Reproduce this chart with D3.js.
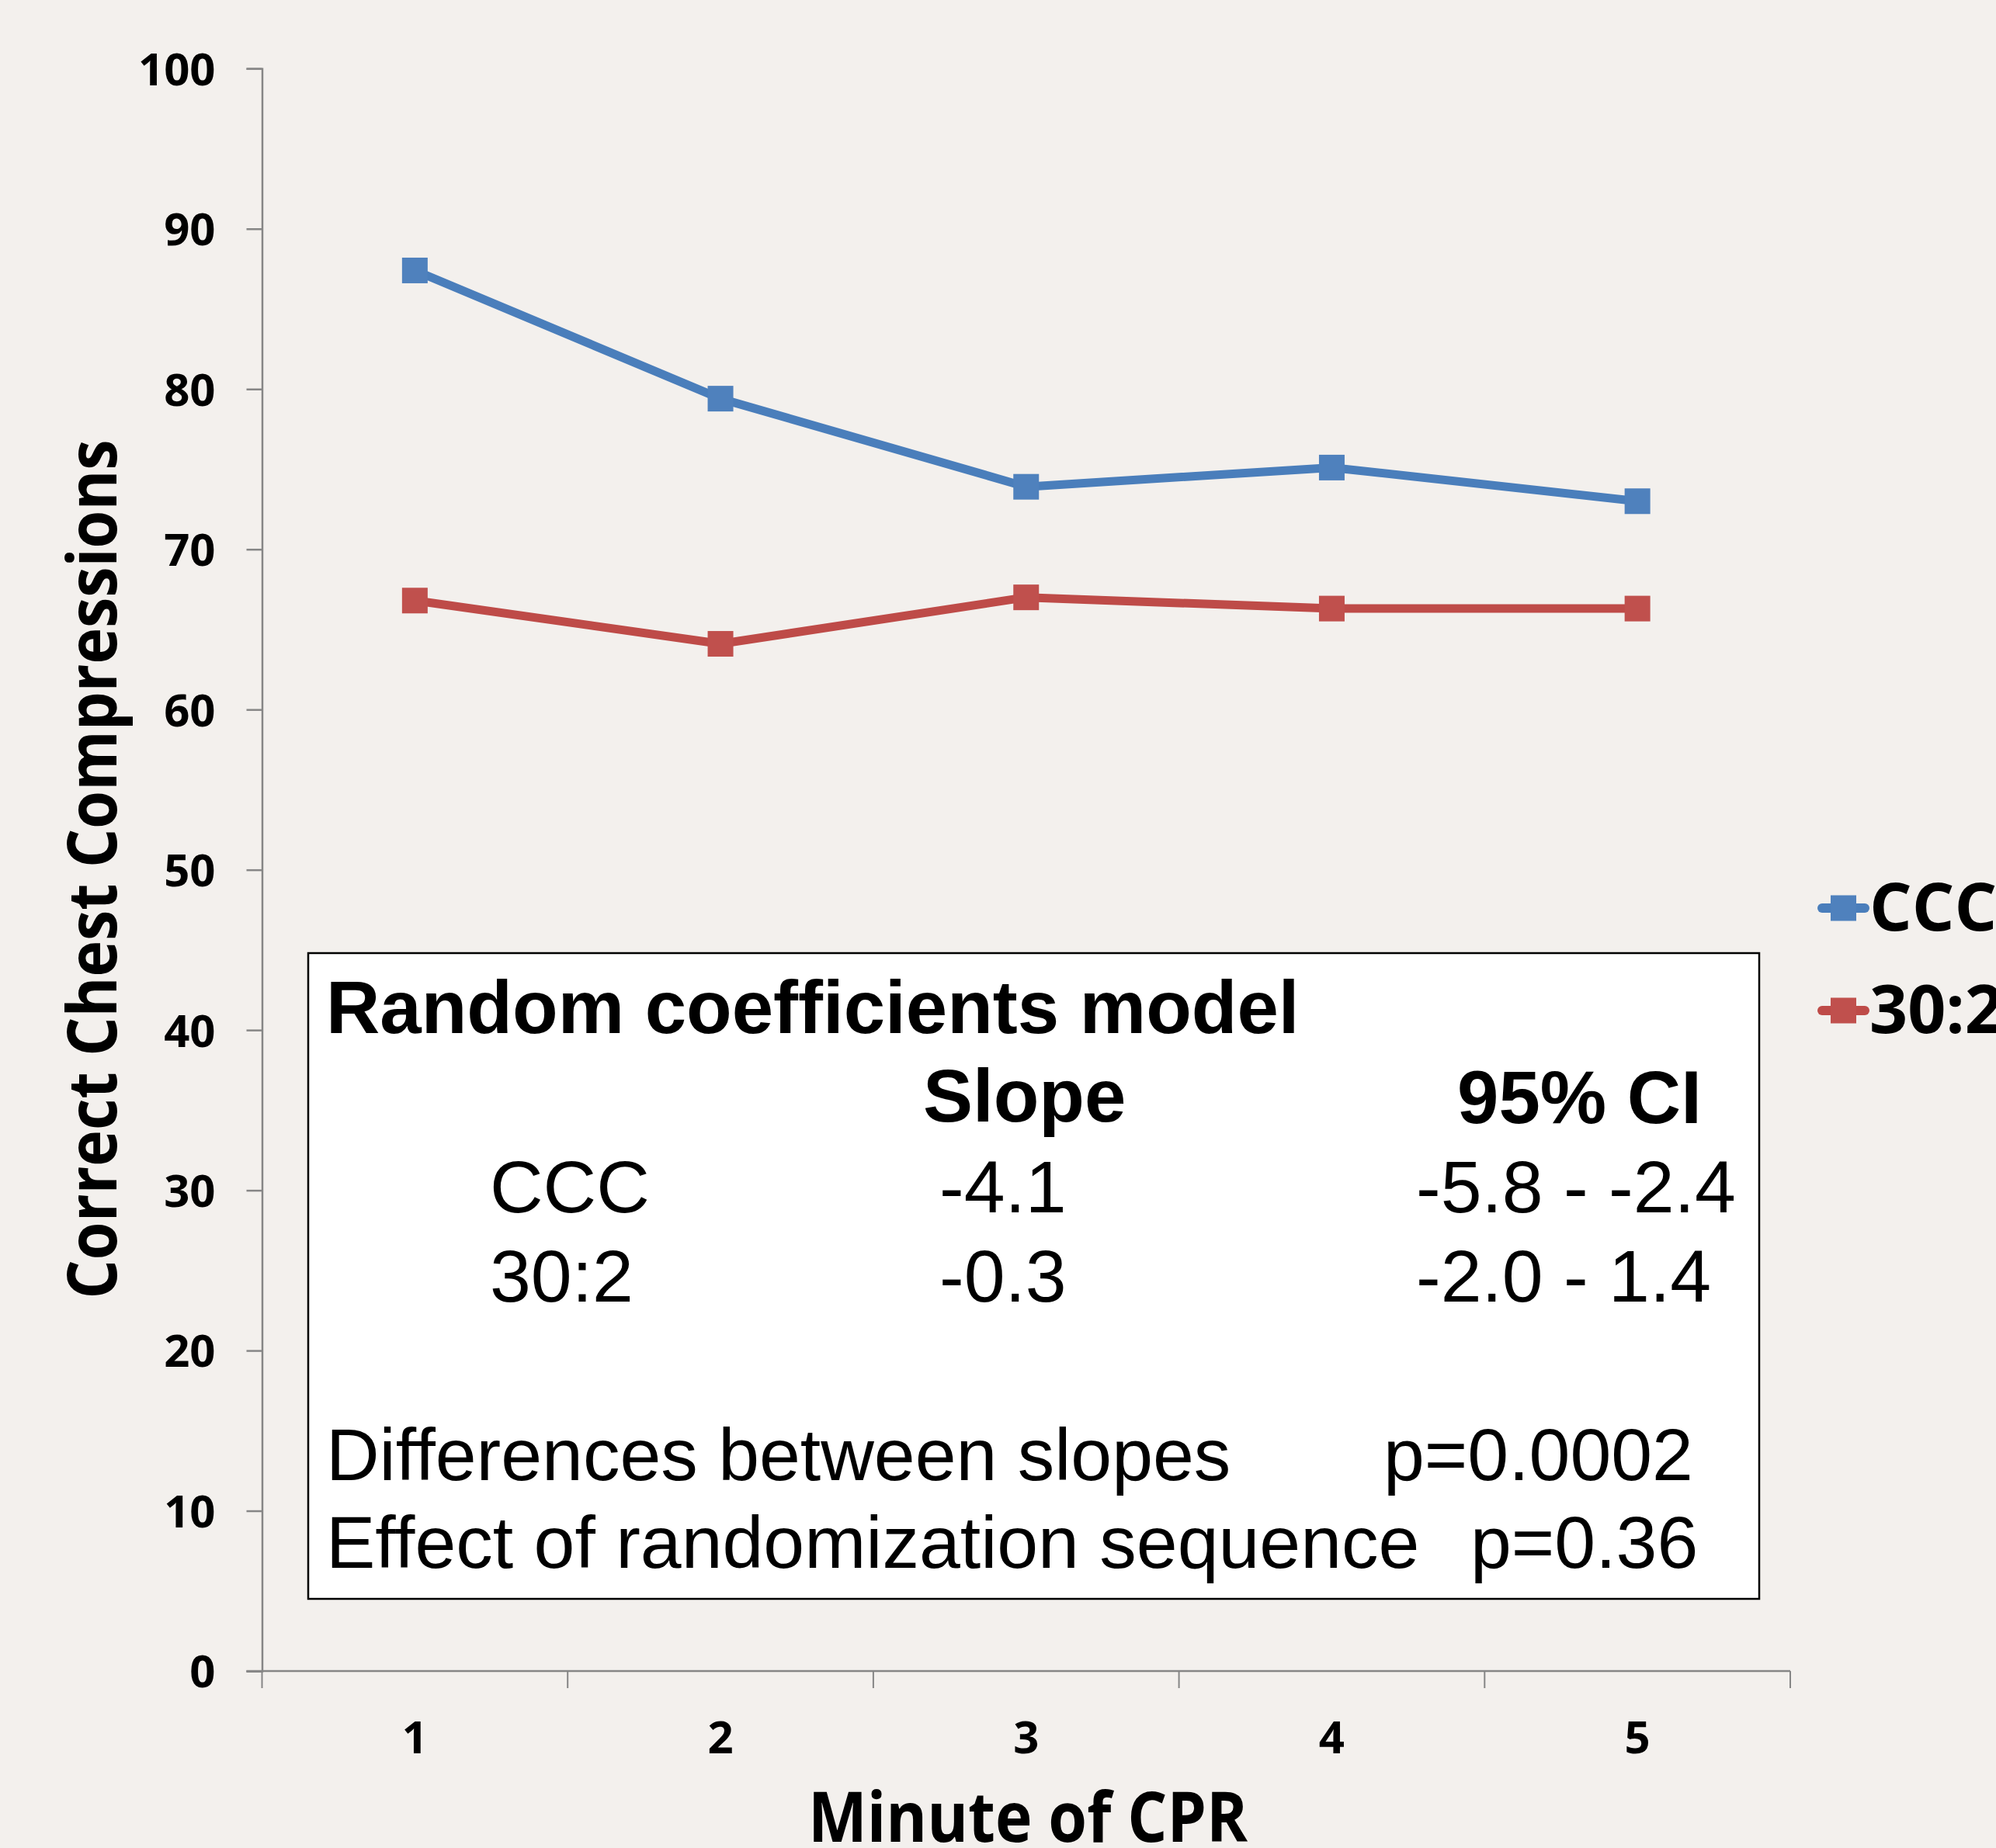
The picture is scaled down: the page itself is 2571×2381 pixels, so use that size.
<!DOCTYPE html>
<html><head><meta charset="utf-8">
<script src="https://cdn.jsdelivr.net/npm/d3@7"></script>
<style>html,body{margin:0;padding:0;background:#f3f0ed;overflow:hidden}</style>
</head><body>
<script>
const minutes = ["1","2","3","4","5"];
const cccValues = [87.4, 79.4, 73.9, 75.1, 73.0];
const ratioValues = [66.8, 64.1, 67.0, 66.3, 66.3];
const seriesNames = ["CCC", "30:2"];
const seriesColors = ["#4a7ebb", "#be4b48"];
const markerColors = ["#4f81bd", "#c0504d"];
const yTicks = [0,10,20,30,40,50,60,70,80,90,100];
const xTitle = "Minute of CPR";
const yTitle = "Correct Chest Compressions";
const boxTitle = "Random coefficients model";
const boxHeaders = ["Slope", "95% CI"];
const boxRows = [["CCC", "-4.1", "-5.8 - -2.4"], ["30:2", "-0.3", "-2.0 - 1.4"]];
const boxNotes = [["Differences between slopes", "p=0.0002"], ["Effect of randomization sequence", "p=0.36"]];

(function(){
const W = 2571, H = 2381;
const svg = d3.select("body").append("svg").attr("width", W).attr("height", H)
  .style("background", "#f3f0ed");
const calibri = "'Open Sans', 'Noto Sans', sans-serif";
const arial = "'Liberation Sans', Arial, sans-serif";

const pLeft = 337.5, pRight = 2306, pTop = 88.3, pBottom = 2153;
const x = d3.scaleBand().domain(minutes).range([pLeft, pRight]);
const y = d3.scaleLinear().domain([0, 100]).range([pBottom, pTop]);

// y axis
const yAxis = svg.append("g").attr("transform", `translate(${pLeft},0)`)
  .call(d3.axisLeft(y).tickValues(yTicks).tickSize(20).tickPadding(40));
yAxis.select(".domain").attr("stroke", "#868686").attr("stroke-width", 2.5);
yAxis.selectAll(".tick line").attr("stroke", "#868686").attr("stroke-width", 2.5);
yAxis.selectAll(".tick text").attr("font-family", calibri).attr("font-weight", 700)
  .attr("font-size", 58).attr("fill", "#000").attr("dy", "0.36em");

// x axis
const xAxis = svg.append("g").attr("transform", `translate(0,${pBottom})`)
  .call(d3.axisBottom(x).tickSize(0).tickPadding(85));
xAxis.select(".domain").remove();
svg.append("line").attr("x1", pLeft - 20).attr("x2", pRight).attr("y1", pBottom).attr("y2", pBottom)
  .attr("stroke", "#868686").attr("stroke-width", 2.5);
const boundaries = minutes.map(m => x(m)).concat([x(minutes[minutes.length-1]) + x.bandwidth()]);
svg.selectAll("line.xt").data(boundaries).enter().append("line").attr("class","xt")
  .attr("x1", d => d).attr("x2", d => d).attr("y1", pBottom).attr("y2", pBottom + 22)
  .attr("stroke", "#868686").attr("stroke-width", 2);
xAxis.selectAll(".tick text").attr("font-family", calibri).attr("font-weight", 700)
  .attr("font-size", 58).attr("fill", "#000").attr("dy", "0.36em");

// axis titles
svg.append("text").attr("x", 1324).attr("y", 2373).attr("text-anchor", "middle")
  .attr("font-family", calibri).attr("font-weight", 700).attr("font-size", 90)
  .attr("textLength", 566).attr("lengthAdjust", "spacingAndGlyphs").text(xTitle);
svg.append("text").attr("transform", "translate(150,1120) rotate(-90)").attr("text-anchor", "middle")
  .attr("font-family", calibri).attr("font-weight", 700).attr("font-size", 88)
  .attr("textLength", 1107).attr("lengthAdjust", "spacingAndGlyphs").text(yTitle);

// lines
const series = [cccValues, ratioValues];
const line = d3.line().x((d, i) => x(minutes[i]) + x.bandwidth() / 2).y(d => y(d));
series.forEach((vals, si) => {
  svg.append("path").datum(vals).attr("d", line).attr("fill", "none")
    .attr("stroke", seriesColors[si]).attr("stroke-width", 11).attr("stroke-linejoin", "round");
  svg.selectAll(null).data(vals).enter().append("rect")
    .attr("x", (d, i) => x(minutes[i]) + x.bandwidth() / 2 - 16.5)
    .attr("y", d => y(d) - 16.5).attr("width", 33).attr("height", 33)
    .attr("fill", markerColors[si]);
});

// legend
const legY = [1170, 1302];
seriesNames.forEach((n, i) => {
  svg.append("line").attr("x1", 2347).attr("x2", 2402).attr("y1", legY[i]).attr("y2", legY[i])
    .attr("stroke", seriesColors[i]).attr("stroke-width", 12).attr("stroke-linecap", "round");
  svg.append("rect").attr("x", 2358).attr("y", legY[i] - 16.5).attr("width", 33).attr("height", 33)
    .attr("fill", markerColors[i]);
  svg.append("text").attr("x", 2408).attr("y", legY[i] + 29).attr("font-family", calibri)
    .attr("font-weight", 700).attr("font-size", 86).attr("fill", "#000").text(n);
});

// statistics box
const box = svg.append("g");
box.append("rect").attr("x", 397).attr("y", 1228).attr("width", 1869).attr("height", 832)
  .attr("fill", "#fff").attr("stroke", "#000").attr("stroke-width", 2.5);
box.append("text").attr("x", 420).attr("y", 1331).attr("font-family", arial).attr("font-weight", 700)
  .attr("font-size", 96).text(boxTitle);
box.append("text").attr("x", 1189).attr("y", 1445).attr("font-family", arial).attr("font-weight", 700)
  .attr("font-size", 96).text(boxHeaders[0]);
box.append("text").attr("x", 1877).attr("y", 1447).attr("font-family", arial).attr("font-weight", 700)
  .attr("font-size", 96).text(boxHeaders[1]);
const rowY = [1562, 1677];
const colX = [631, 1210, 1824];
boxRows.forEach((r, ri) => {
  r.forEach((t, ci) => {
    box.append("text").attr("x", colX[ci]).attr("y", rowY[ri]).attr("font-family", arial)
      .attr("font-size", 95).text(t);
  });
});
const noteY = [1907, 2020];
const noteX = [[420, 1782], [420, 1894]];
boxNotes.forEach((r, ri) => {
  r.forEach((t, ci) => {
    box.append("text").attr("x", noteX[ri][ci]).attr("y", noteY[ri]).attr("font-family", arial)
      .attr("font-size", 95).text(t);
  });
});
})();
</script>
</body></html>
